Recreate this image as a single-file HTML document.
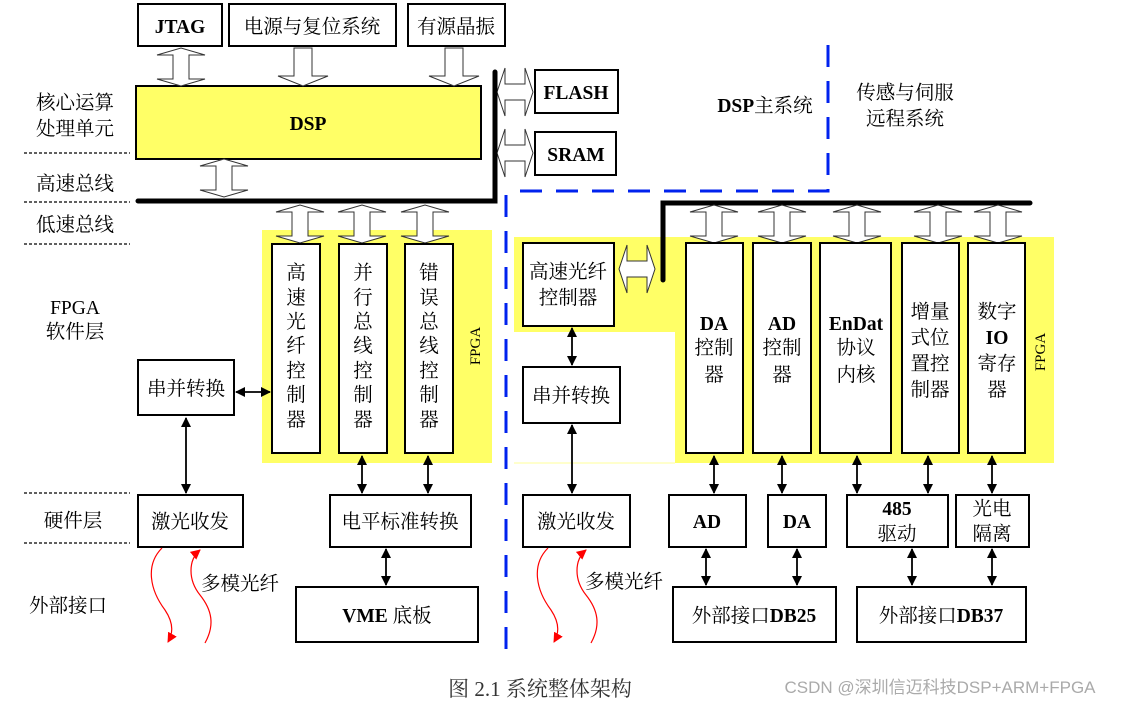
<!DOCTYPE html>
<html><head><meta charset="utf-8"><style>
body{margin:0;background:#fff}
svg{display:block}
text{font-family:"Liberation Serif","Noto Serif CJK SC",serif;font-size:19.5px;fill:#000}
.b{font-weight:bold}
</style></head><body>
<svg width="1124" height="705" viewBox="0 0 1124 705" xmlns="http://www.w3.org/2000/svg">
<defs>
<marker id="a" viewBox="0 0 10 10" refX="9" refY="5" markerWidth="12" markerHeight="10" orient="auto-start-reverse" markerUnits="userSpaceOnUse"><path d="M0,0 L10,5 L0,10z" fill="#000"/></marker>
<marker id="r" viewBox="0 0 10 10" refX="9" refY="5" markerWidth="10" markerHeight="10" orient="auto" markerUnits="userSpaceOnUse"><path d="M0,0 L10,5 L0,10z" fill="red"/></marker>
<g id="bv"><path d="M-8,-12 h-16 l24,-7 l24,7 h-16 v24 h16 l-24,7 l-24,-7 h16z" fill="#fff" stroke="#333" stroke-width="1"/></g>
<g id="dv"><path d="M-9,-20 v28 h-16 l25,10 l25,-10 h-16 v-28z" fill="#fff" stroke="#333" stroke-width="1"/></g>
<g id="bh"><path d="M-10,-8 v-16 l-8,24 l8,24 v-16 h20 v16 l8,-24 l-8,-24 v16z" fill="#fff" stroke="#333" stroke-width="1"/></g>
</defs>
<rect x="262" y="230" width="230" height="233" fill="#ffff66"/>
<path d="M514,237 H1054 V463 H675 V332 H514z" fill="#ffff66"/>
<line x1="514" y1="463" x2="675" y2="463" stroke="#ffff99" stroke-width="1"/>
<g stroke="#000" stroke-width="1.2" stroke-dasharray="3,2">
<line x1="24" y1="153" x2="130" y2="153"/><line x1="24" y1="202" x2="130" y2="202"/><line x1="24" y1="244" x2="130" y2="244"/>
<line x1="24" y1="493" x2="130" y2="493"/><line x1="24" y1="543" x2="130" y2="543"/>
</g>
<g stroke="#0022ee" stroke-width="3" stroke-dasharray="22,14" fill="none">
<path d="M506,195 V652"/><path d="M520,191 H828 V40"/>
</g>
<g fill="#fff" stroke="#000" stroke-width="2">
<rect x="138" y="4" width="84" height="42"/><rect x="229" y="4" width="167" height="42"/><rect x="408" y="4" width="97" height="42"/>
<rect x="136" y="86" width="345" height="73" fill="#ffff66"/>
<rect x="535" y="70" width="83" height="43"/><rect x="535" y="132" width="81" height="43"/>
</g>
<text x="180" y="33" text-anchor="middle" class="b">JTAG</text>
<text x="312" y="33" text-anchor="middle">电源与复位系统</text>
<text x="456" y="33" text-anchor="middle">有源晶振</text>
<text x="308" y="130" text-anchor="middle" class="b">DSP</text>
<text x="576" y="99" text-anchor="middle" class="b">FLASH</text>
<text x="576" y="161" text-anchor="middle" class="b">SRAM</text>
<use href="#bv" x="181" y="67"/>
<use href="#dv" x="303" y="68"/><use href="#dv" x="454" y="68"/>
<use href="#bh" x="515" y="92"/><use href="#bh" x="515" y="153"/>
<use href="#bv" x="224" y="178"/>
<path d="M138,201 H495 V72" stroke="#000" stroke-width="5" fill="none" stroke-linecap="round"/>
<path d="M663,280 V203 H1030" stroke="#000" stroke-width="5" fill="none" stroke-linecap="round"/>
<use href="#bv" x="300" y="224"/><use href="#bv" x="362" y="224"/><use href="#bv" x="425" y="224"/>
<use href="#bv" x="714" y="224"/><use href="#bv" x="782" y="224"/><use href="#bv" x="857" y="224"/><use href="#bv" x="938" y="224"/><use href="#bv" x="998" y="224"/>
<use href="#bh" x="637" y="269"/>
<text x="75" y="109" text-anchor="middle">核心运算</text><text x="75" y="135" text-anchor="middle">处理单元</text>
<text x="75" y="190" text-anchor="middle">高速总线</text><text x="75" y="231" text-anchor="middle">低速总线</text>
<text x="75" y="314" text-anchor="middle">FPGA</text><text x="75" y="338" text-anchor="middle">软件层</text>
<text x="73" y="527" text-anchor="middle">硬件层</text><text x="68" y="612" text-anchor="middle">外部接口</text>
<text x="765" y="112" text-anchor="middle"><tspan class="b">DSP</tspan>主系统</text>
<text x="905" y="99" text-anchor="middle">传感与伺服</text><text x="905" y="125" text-anchor="middle">远程系统</text>
<g fill="#fff" stroke="#000" stroke-width="2">
<rect x="272" y="244" width="48" height="209"/><rect x="339" y="244" width="48" height="209"/><rect x="405" y="244" width="48" height="209"/>
<rect x="138" y="360" width="96" height="55"/>
<rect x="523" y="243" width="91" height="83"/><rect x="523" y="367" width="97" height="56"/>
<rect x="686" y="243" width="57" height="210"/><rect x="753" y="243" width="58" height="210"/><rect x="820" y="243" width="71" height="210"/><rect x="902" y="243" width="57" height="210"/><rect x="968" y="243" width="57" height="210"/>
<rect x="138" y="495" width="105" height="52"/><rect x="330" y="495" width="141" height="52"/><rect x="296" y="587" width="182" height="55"/>
<rect x="523" y="495" width="107" height="52"/>
<rect x="669" y="495" width="77" height="52"/><rect x="768" y="495" width="58" height="52"/><rect x="847" y="495" width="101" height="52"/><rect x="956" y="495" width="73" height="52"/>
<rect x="673" y="587" width="163" height="55"/><rect x="857" y="587" width="169" height="55"/>
</g>
<g text-anchor="middle">
<text x="296" y="279">高</text><text x="296" y="304">速</text><text x="296" y="328">光</text><text x="296" y="352">纤</text><text x="296" y="377">控</text><text x="296" y="401">制</text><text x="296" y="426">器</text>
<text x="363" y="279">并</text><text x="363" y="304">行</text><text x="363" y="328">总</text><text x="363" y="352">线</text><text x="363" y="377">控</text><text x="363" y="401">制</text><text x="363" y="426">器</text>
<text x="429" y="279">错</text><text x="429" y="304">误</text><text x="429" y="328">总</text><text x="429" y="352">线</text><text x="429" y="377">控</text><text x="429" y="401">制</text><text x="429" y="426">器</text>
<text x="186" y="395">串并转换</text>
<text x="568" y="278">高速光纤</text><text x="568" y="304">控制器</text>
<text x="571" y="402">串并转换</text>
<text x="714" y="330" class="b">DA</text><text x="714" y="354">控制</text><text x="714" y="381">器</text>
<text x="782" y="330" class="b">AD</text><text x="782" y="354">控制</text><text x="782" y="381">器</text>
<text x="856" y="330" class="b">EnDat</text><text x="856" y="354">协议</text><text x="856" y="381">内核</text>
<text x="930" y="318">增量</text><text x="930" y="344">式位</text><text x="930" y="370">置控</text><text x="930" y="396">制器</text>
<text x="997" y="318">数字</text><text x="997" y="344" class="b">IO</text><text x="997" y="370">寄存</text><text x="997" y="396">器</text>
<text x="190" y="528">激光收发</text><text x="400" y="528">电平标准转换</text><text x="387" y="622" class="b">VME <tspan font-weight="normal">底板</tspan></text>
<text x="576" y="528">激光收发</text>
<text x="707" y="528" class="b">AD</text><text x="797" y="528" class="b">DA</text>
<text x="897" y="515" class="b">485</text><text x="897" y="540">驱动</text>
<text x="992" y="515">光电</text><text x="992" y="540">隔离</text>
<text x="754" y="622">外部接口<tspan class="b">DB25</tspan></text><text x="941" y="622">外部接口<tspan class="b">DB37</tspan></text>
<text x="240" y="590">多模光纤</text><text x="624" y="588">多模光纤</text>
</g>
<text transform="translate(480,346) rotate(-90)" text-anchor="middle" style="font-size:15px">FPGA</text>
<text transform="translate(1045,352) rotate(-90)" text-anchor="middle" style="font-size:15px">FPGA</text>
<g stroke="#000" stroke-width="1.8" marker-start="url(#a)" marker-end="url(#a)">
<line x1="236" y1="392" x2="270" y2="392"/>
<line x1="186" y1="418" x2="186" y2="493"/>
<line x1="362" y1="456" x2="362" y2="493"/><line x1="428" y1="456" x2="428" y2="493"/>
<line x1="386" y1="549" x2="386" y2="585"/>
<line x1="572" y1="328" x2="572" y2="365"/><line x1="572" y1="425" x2="572" y2="493"/>
<line x1="714" y1="456" x2="714" y2="493"/><line x1="782" y1="456" x2="782" y2="493"/><line x1="857" y1="456" x2="857" y2="493"/><line x1="928" y1="456" x2="928" y2="493"/><line x1="992" y1="456" x2="992" y2="493"/>
<line x1="706" y1="549" x2="706" y2="585"/><line x1="797" y1="549" x2="797" y2="585"/><line x1="912" y1="549" x2="912" y2="585"/><line x1="992" y1="549" x2="992" y2="585"/>
</g>
<g stroke="red" stroke-width="1.2" fill="none">
<path d="M162,548 C145,565 150,590 165,610 C175,625 172,635 168,642" marker-end="url(#r)"/>
<path d="M205,643 C215,625 212,610 200,595 C188,580 188,560 200,550" marker-end="url(#r)"/>
<path d="M548,548 C531,565 536,590 551,610 C561,625 558,635 554,642" marker-end="url(#r)"/>
<path d="M591,643 C601,625 598,610 586,595 C574,580 574,560 586,550" marker-end="url(#r)"/>
</g>
<text x="540" y="696" text-anchor="middle" style="font-size:21px;fill:#333">图 2.1  系统整体架构</text>
<text x="940" y="693" text-anchor="middle" style="font-family:'Liberation Sans','Noto Sans CJK SC',sans-serif;font-size:17px;fill:#aaa">CSDN @深圳信迈科技DSP+ARM+FPGA</text>
</svg>
</body></html>
